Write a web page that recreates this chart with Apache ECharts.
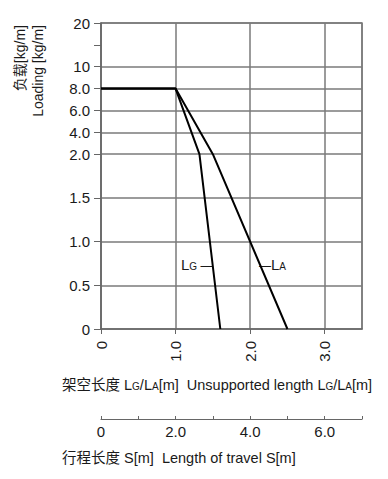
<!DOCTYPE html>
<html><head><meta charset="utf-8">
<script src="https://cdn.jsdelivr.net/npm/echarts@6/dist/echarts.min.js"></script>
<style>html,body{margin:0;padding:0;background:#fff}#c{width:388px;height:479px}</style>
</head><body><div id="c"></div>
<script>
// Loading levels on the non-linear vertical scale (0–2.0 uses double spacing,
// so quarter-steps are included as unlabeled slots)
const loadingLevels = ['0','0.25','0.5','0.75','1.0','1.25','1.5','1.75','2.0','4.0','6.0','8.0','10','15','20'];
// Levels that get a label and a grid line
const labeledLevels = ['0','0.5','1.0','1.5','2.0','4.0','6.0','8.0','10','20'];
// Levels that only get a tick mark
const tickOnlyLevels = ['15'];
// Unsupported length axis ticks [m]
const lengthTicks = [0, 1.0, 2.0, 3.0];
const lengthMax = 3.5;
// Length of travel axis [m]
const travelMax = 7;
const travelLabelValues = [0, 2, 4, 6];
// Curves: unsupported length L [m] vs loading [kg/m]
const lgLength  = [0, 1.0, 1.32, 1.6];
const lgLoading = ['8.0', '8.0', '2.0', '0'];
const laLength  = [0, 1.0, 1.5, 2.5];
const laLoading = ['8.0', '8.0', '2.0', '0'];

const FONT = '"Liberation Sans", Arial, "Noto Sans CJK SC", sans-serif';
const GRID_C = '#7a7a7a';
const AX_C = '#666';
const TXT = '#1a1a1a';

const chart = echarts.init(document.getElementById('c'), null, {renderer: 'svg'});
const pair = (xs, ys) => xs.map((x, i) => [x, ys[i]]);
const fmt = v => v === 0 ? '0' : v.toFixed(1);
const isLabeled = v => labeledLevels.indexOf(v) >= 0;
const hasTick = v => isLabeled(v) || tickOnlyLevels.indexOf(v) >= 0;

const richBase = {
  b: {fontSize: 14.5, fontFamily: FONT, fill: TXT, verticalAlign: 'bottom', lineHeight: 18},
  s: {fontSize: 10, fontFamily: FONT, fill: TXT, verticalAlign: 'bottom', lineHeight: 18, padding: [0,0,1,0]}
};
const richAnn = {
  b: {fontSize: 15, fontFamily: FONT, fill: TXT, verticalAlign: 'bottom', lineHeight: 18},
  s: {fontSize: 10, fontFamily: FONT, fill: TXT, verticalAlign: 'bottom', lineHeight: 18, padding: [0,0,1,0]},
  d: {fontSize: 12, fontFamily: FONT, fill: TXT, verticalAlign: 'bottom', lineHeight: 18}
};

chart.setOption({
  animation: false,
  backgroundColor: '#fff',
  textStyle: {fontFamily: FONT},
  grid: {left: 101, right: 26, top: 23, bottom: 150, show: true, borderColor: GRID_C, borderWidth: 1.5, backgroundColor: 'transparent'},
  xAxis: [{
    type: 'value', min: 0, max: lengthMax, interval: 1,
    axisLine: {show: true, lineStyle: {color: AX_C, width: 1.5}},
    axisTick: {show: true, length: 5, lineStyle: {color: AX_C}},
    axisLabel: {rotate: 90, fontSize: 15, color: TXT, margin: 12, showMaxLabel: false, fontFamily: FONT,
      formatter: v => lengthTicks.indexOf(v) >= 0 ? fmt(v) : ''},
    splitLine: {show: true, lineStyle: {color: GRID_C, width: 1.5}}
  }, {
    type: 'value', min: 0, max: travelMax, interval: 1, position: 'bottom', offset: 90,
    axisLine: {show: true, lineStyle: {color: AX_C, width: 1.2}},
    axisTick: {show: true, length: 3, inside: true, lineStyle: {color: AX_C}},
    axisLabel: {fontSize: 15, color: TXT, margin: 5, fontFamily: FONT,
      formatter: v => travelLabelValues.indexOf(v) >= 0 ? fmt(v) : ''},
    splitLine: {show: false}
  }],
  yAxis: {
    type: 'category', data: loadingLevels, boundaryGap: false,
    axisLine: {show: true, lineStyle: {color: AX_C, width: 1.5}},
    axisTick: {show: true, length: 7, interval: (i, v) => hasTick(v), lineStyle: {color: AX_C}},
    axisLabel: {fontSize: 15, color: TXT, margin: 11, fontFamily: FONT,
      interval: (i, v) => isLabeled(v)},
    splitLine: {show: true, interval: (i, v) => isLabeled(v) && v !== '0',
      lineStyle: {color: GRID_C, width: 1.5}}
  },
  series: [{
    name: 'LG', type: 'line', xAxisIndex: 0, data: pair(lgLength, lgLoading),
    symbol: 'none', lineStyle: {color: '#000', width: 2}
  }, {
    name: 'LA', type: 'line', xAxisIndex: 0, data: pair(laLength, laLoading),
    symbol: 'none', lineStyle: {color: '#000', width: 2}
  }],
  graphic: [
    {type: 'text', x: 20, y: 25, rotation: Math.PI / 2,
      style: {text: '负载[kg/m]', font: '14px ' + FONT, fill: TXT, align: 'right', verticalAlign: 'middle'}},
    {type: 'text', x: 38, y: 25, rotation: Math.PI / 2,
      style: {text: 'Loading [kg/m]', font: '14px ' + FONT, fill: TXT, align: 'right', verticalAlign: 'middle'}},
    {type: 'text', x: 62, y: 383,
      style: {text: '{b|架空长度 L}{s|G}{b|/L}{s|A}{b|[m]  Unsupported length L}{s|G}{b|/L}{s|A}{b|[m]}',
        verticalAlign: 'middle', fill: TXT, rich: richBase}},
    {type: 'text', x: 62, y: 458,
      style: {text: '行程长度 S[m]  Length of travel S[m]', font: '14.5px ' + FONT, fill: TXT, verticalAlign: 'middle'}},
    {type: 'text', x: 181, y: 263,
      style: {text: '{b|L}{s|G}{d| —}', verticalAlign: 'middle', rich: richAnn}},
    {type: 'text', x: 259, y: 263,
      style: {text: '{d|—}{b|L}{s|A}', verticalAlign: 'middle', rich: richAnn}}
  ]
});
</script></body></html>
